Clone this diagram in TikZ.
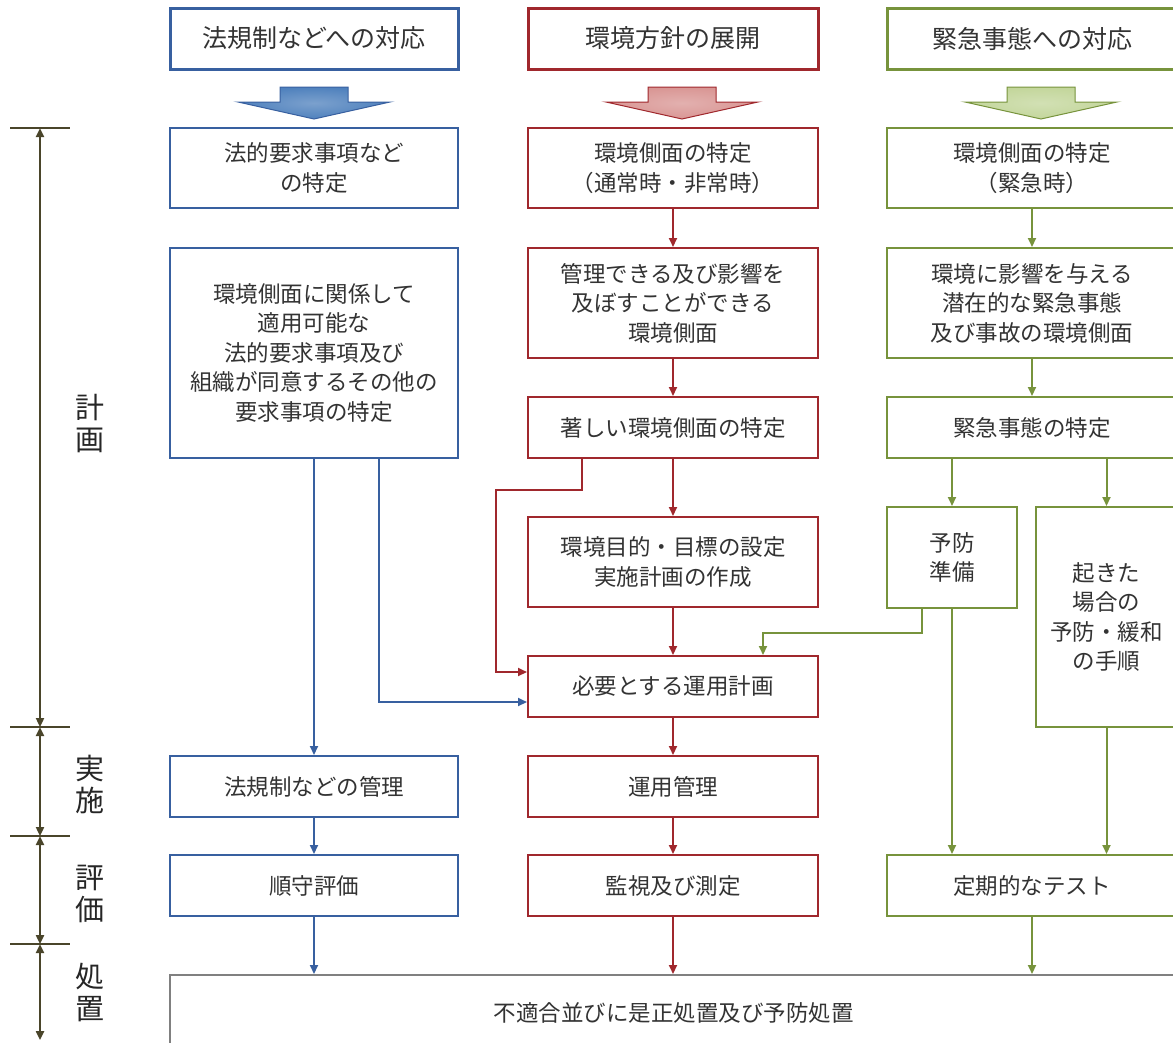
\documentclass[tikz,border=0pt]{standalone}
\usepackage{fontspec}
\setmainfont{Noto Sans CJK JP}
\usepackage{tikz}
\usetikzlibrary{arrows.meta,calc,positioning}
\definecolor{lawblue}{RGB}{56,96,160}
\definecolor{envred}{RGB}{160,40,45}
\definecolor{emgreen}{RGB}{119,147,60}
\definecolor{axcol}{RGB}{74,69,42}
\definecolor{bfill}{RGB}{79,129,189}
\definecolor{rfill}{RGB}{217,150,148}
\definecolor{gfill}{RGB}{195,214,155}
\newcommand*{\hfnt}{\fontsize{25}{30}\selectfont}
\newcommand*{\bfnt}{\fontsize{22.5}{29.5}\selectfont}
\newcommand*{\afnt}{\fontsize{29}{32}\selectfont}
\tikzstyle{box}=[fill=white,align=center,inner sep=0pt,line width=2pt,font=\bfnt,text=black!80]
\tikzstyle{head}=[box,line width=3pt,font=\hfnt]
\tikzstyle{tip}=[-{Triangle[length=9pt,width=8pt]},line width=2pt]
\tikzstyle{axis}=[{Triangle[length=9pt,width=8pt]}-{Triangle[length=9pt,width=8pt]},line width=2.5pt,draw=axcol]
\newcommand*{\blockarrow}[3]{% centre x, fill, border
  \path[inner color=#2!75!white,outer color=#2,draw=#3,line width=1pt] ({#1-34},87) -- ({#1+34},87) -- ({#1+34},102) -- ({#1+76},102) -- (#1,119) -- ({#1-76},102) -- ({#1-34},102) -- cycle;}

\begin{document}
\begin{tikzpicture}[x=1pt,y=-1pt]
            \useasboundingbox (0,0) rectangle (1173,1042);
            % headers
            \node[head,draw=lawblue,minimum width=288pt,minimum height=61pt] (hlaw) at (314,38.5) {法規制などへの対応};
            \node[head,draw=envred,minimum width=290pt,minimum height=61pt] (henv) at (673,38.5) {環境方針の展開};
            \node[head,draw=emgreen,minimum width=290pt,minimum height=61pt] (hemg) at (1032,38.5) {緊急事態への対応};
            \blockarrow{314}{bfill}{lawblue}
            \blockarrow{682}{rfill}{envred}
            \blockarrow{1041}{gfill}{emgreen}
            % blue column
            \node[box,draw=lawblue,minimum width=288pt,minimum height=80pt] (blaw) at (314,168) {法的要求事項など\\の特定};
            \node[box,draw=lawblue,minimum width=288pt,minimum height=210pt] (breq) at (314,353) {環境側面に関係して\\適用可能な\\法的要求事項及び\\組織が同意するその他の\\要求事項の特定};
            \node[box,draw=lawblue,minimum width=288pt,minimum height=61pt] (bmng) at (314,786.5) {法規制などの管理};
            \node[box,draw=lawblue,minimum width=288pt,minimum height=61pt] (bcmp) at (314,885.5) {順守評価};
            % red column
            \node[box,draw=envred,minimum width=290pt,minimum height=80pt] (renv) at (673,168) {環境側面の特定\\（通常時・非常時）};
            \node[box,draw=envred,minimum width=290pt,minimum height=110pt] (rman) at (673,303) {管理できる及び影響を\\及ぼすことができる\\環境側面};
            \node[box,draw=envred,minimum width=290pt,minimum height=61pt] (rsig) at (673,427.5) {著しい環境側面の特定};
            \node[box,draw=envred,minimum width=290pt,minimum height=90pt] (robj) at (673,562) {環境目的・目標の設定\\実施計画の作成};
            \node[box,draw=envred,minimum width=290pt,minimum height=61pt] (rops) at (673,686.5) {必要とする運用計画};
            \node[box,draw=envred,minimum width=290pt,minimum height=61pt] (rctl) at (673,786.5) {運用管理};
            \node[box,draw=envred,minimum width=290pt,minimum height=61pt] (rmon) at (673,885.5) {監視及び測定};
            % green column
            \node[box,draw=emgreen,minimum width=290pt,minimum height=80pt] (genv) at (1032,168) {環境側面の特定\\（緊急時）};
            \node[box,draw=emgreen,minimum width=290pt,minimum height=110pt] (gpot) at (1032,303) {環境に影響を与える\\潜在的な緊急事態\\及び事故の環境側面};
            \node[box,draw=emgreen,minimum width=290pt,minimum height=61pt] (gidt) at (1032,427.5) {緊急事態の特定};
            \node[box,draw=emgreen,minimum width=130pt,minimum height=101pt] (gprv) at (952,557.5) {予防\\準備};
            \node[box,draw=emgreen,minimum width=141pt,minimum height=220pt] (gproc) at (1106.5,617) {起きた\\場合の\\予防・緩和\\の手順};
            \node[box,draw=emgreen,minimum width=290pt,minimum height=61pt] (gtst) at (1032,885.5) {定期的なテスト};
            % bottom
            \node[box,draw=black!50,minimum width=1007pt,minimum height=75pt] (act) at (673.5,1012.5) {不適合並びに是正処置及び予防処置};
            % connectors
            \draw[tip,lawblue] (breq.south) -- (bmng.north);
            \draw[tip,lawblue] ([xshift=65pt]breq.south) |- ([yshift=-15.5pt]rops.west);
            \draw[tip,lawblue] (bmng.south) -- (bcmp.north);
            \draw[tip,lawblue] (bcmp.south) -- (act.north -| bcmp.south);
            \coordinate (rbend) at (496,490);
            \draw[tip,envred] (renv.south) -- (rman.north);
            \draw[tip,envred] (rman.south) -- (rsig.north);
            \draw[tip,envred] (rsig.south) -- (robj.north);
            \draw[tip,envred] ([xshift=-91pt]rsig.south) |- (rbend) |- ([yshift=14.5pt]rops.west);
            \draw[tip,envred] (robj.south) -- (rops.north);
            \draw[tip,envred] (rops.south) -- (rctl.north);
            \draw[tip,envred] (rctl.south) -- (rmon.north);
            \draw[tip,envred] (rmon.south) -- (act.north -| rmon.south);
            \coordinate (gbend) at (763,633);
            \draw[tip,emgreen] (genv.south) -- (gpot.north);
            \draw[tip,emgreen] (gpot.south) -- (gidt.north);
            \draw[tip,emgreen] (gidt.south -| gprv.north) -- (gprv.north);
            \draw[tip,emgreen] (gidt.south -| gproc.north) -- (gproc.north);
            \draw[tip,emgreen] ([xshift=-30pt]gprv.south) |- (gbend) -- (gbend |- rops.north);
            \draw[tip,emgreen] (gprv.south) -- (gtst.north -| gprv.south);
            \draw[tip,emgreen] (gproc.south) -- (gtst.north -| gproc.south);
            \draw[tip,emgreen] (gtst.south) -- (act.north -| gtst.south);
            % phase axis
            \coordinate (a0) at (40,128);
            \coordinate (a1) at (40,727);
            \coordinate (a2) at (40,836);
            \coordinate (a3) at (40,944);
            \coordinate (a4) at (40,1040);
            \foreach \p in {a0,a1,a2,a3}
                \draw[axcol,line width=2.5pt] ([xshift=-30pt]\p) -- ([xshift=30pt]\p);
            \draw[axis] (a0) -- (a1);
            \draw[axis] (a1) -- (a2);
            \draw[axis] (a2) -- (a3);
            \draw[axis] (a3) -- (a4);
            \node[font=\afnt,align=center,text=black!85] (lplan) at (90,424) {計\\画};
            \node[font=\afnt,align=center,text=black!85] (ldo) at (90,784) {実\\施};
            \node[font=\afnt,align=center,text=black!85] (lchk) at (90,894) {評\\価};
            \node[font=\afnt,align=center,text=black!85] (lact) at (90,992) {処\\置};
        \end{tikzpicture}
\end{document}
